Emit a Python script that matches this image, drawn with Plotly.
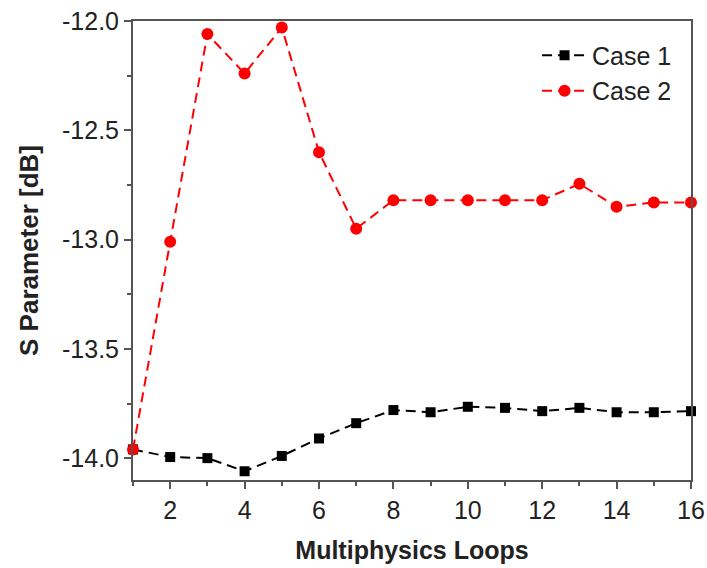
import plotly.graph_objects as go

loops = list(range(1, 17))
case1 = [-13.96, -13.995, -14.0, -14.06, -13.99, -13.91, -13.84, -13.78, -13.79, -13.765,
         -13.77, -13.785, -13.77, -13.79, -13.79, -13.785]
case2 = [-13.96, -13.01, -12.06, -12.24, -12.03, -12.60, -12.95, -12.82, -12.82, -12.82,
         -12.82, -12.82, -12.745, -12.85, -12.83, -12.83]

FONT = "Liberation Sans, Arial"

fig = go.Figure()
fig.add_trace(go.Scatter(x=loops, y=case1, name="Case 1", mode="lines+markers",
                         line=dict(color="black", dash="10px,6px", width=2),
                         marker=dict(symbol="square", size=10, color="black"),
                         cliponaxis=False))
fig.add_trace(go.Scatter(x=loops, y=case2, name="Case 2", mode="lines+markers",
                         line=dict(color="red", dash="10px,6px", width=2),
                         marker=dict(symbol="circle", size=12, color="red"),
                         cliponaxis=False))

axis_common = dict(showline=True, linecolor="#555", linewidth=2, mirror=True,
                   ticks="outside", ticklen=7, tickwidth=1.5, tickcolor="#555",
                   showgrid=False, zeroline=False, automargin=False,
                   tickfont=dict(family=FONT, size=25, color="#222"))

fig.update_xaxes(range=[1, 16], tickvals=[2, 4, 6, 8, 10, 12, 14, 16],
                 minor=dict(ticks="outside", ticklen=4, tickcolor="#555", dtick=1, tick0=1),
                 title=dict(text="<b>Multiphysics Loops</b>", standoff=18,
                            font=dict(family=FONT, size=25, color="#222")),
                 **axis_common)
fig.update_yaxes(range=[-14.1, -12.0], tickvals=[-14.0, -13.5, -13.0, -12.5, -12.0],
                 ticktext=["-14.0", "-13.5", "-13.0", "-12.5", "-12.0"],
                 minor=dict(ticks="outside", ticklen=4, tickcolor="#555", dtick=0.25, tick0=-14.0),
                 title=dict(text="<b>S Parameter [dB]</b>", standoff=16,
                            font=dict(family=FONT, size=26, color="#222")),
                 **axis_common)

fig.update_layout(width=707, height=568, paper_bgcolor="white", plot_bgcolor="white",
                  margin=dict(l=133, r=16, t=21, b=88),
                  showlegend=True,
                  legend=dict(x=0.975, y=0.975, xanchor="right", yanchor="top",
                              bgcolor="rgba(0,0,0,0)", itemwidth=45,
                              tracegroupgap=0,
                              font=dict(family=FONT, size=25, color="#222")))
fig.write_html("out.html")
